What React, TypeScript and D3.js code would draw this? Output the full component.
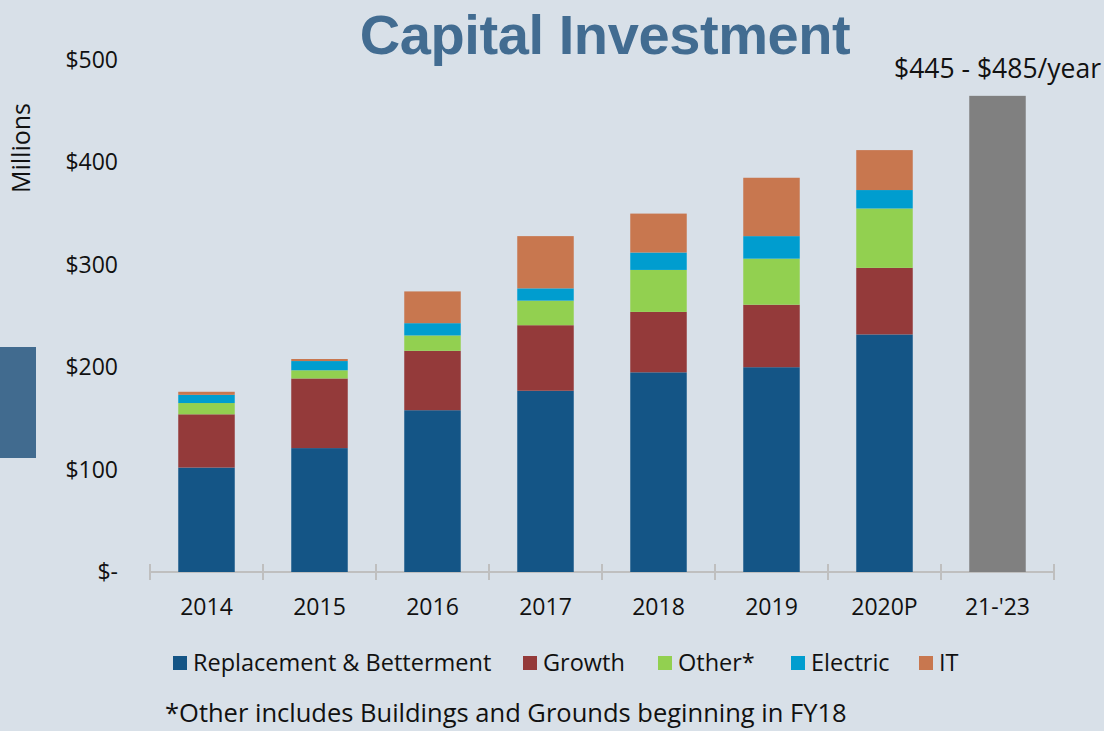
import { useMemo } from "react";
import * as d3 from "d3";

const categories = ["2014", "2015", "2016", "2017", "2018", "2019", "2020P", "21-'23"];
const stackedYears = ["2014", "2015", "2016", "2017", "2018", "2019", "2020P"];
const replacement = [102, 121, 158, 177, 195, 200, 232];
const growth = [52, 68, 58, 64, 59, 61, 65];
const other = [11, 8, 15, 24, 41, 45, 58];
const electric = [8, 9, 12, 12, 17, 22, 18];
const it = [3, 2, 31, 51, 38, 57, 39];
const forecastLabel = "21-'23";
const forecastValue = 465;
const yTicks = [0, 100, 200, 300, 400, 500];

const seriesNames = ["Replacement & Betterment", "Growth", "Other*", "Electric", "IT"];
const seriesKeys = ["replacement", "growth", "other", "electric", "it"];
const colors = ["#145586", "#943a3a", "#92d050", "#009dcf", "#c8774f"];

const W = 1104;
const H = 731;
const FONT = "'Open Sans', sans-serif";

const App = () => {
  const x = d3
    .scaleBand<string>()
    .domain(categories)
    .range([150, 1054])
    .paddingInner(0.5)
    .paddingOuter(0.25);
  const y = d3.scaleLinear().domain([0, 500]).range([572, 60]);
  const step = x.step();

  const rows = stackedYears.map((year, i) => ({
    year,
    replacement: replacement[i],
    growth: growth[i],
    other: other[i],
    electric: electric[i],
    it: it[i],
  }));

  const layers = useMemo(() => d3.stack<any>().keys(seriesKeys)(rows), []);

  // legend layout (x of each swatch)
  const legendX = [173, 523, 658, 791, 919];

  return (
    <div style={{ position: "absolute", left: 0, top: 0 }}>
      <svg width={W} height={H} style={{ display: "block", fontFamily: FONT }}>
        <rect x={0} y={0} width={W} height={H} fill="#d8e0e8" />
        <rect x={0} y={347} width={36} height={111} fill="#416b8f" />

        <text
          x={605}
          y={54}
          textAnchor="middle"
          fontFamily="'Liberation Sans', Arial, sans-serif"
          fontWeight="bold"
          fontSize={56}
          letterSpacing={-0.4}
          fill="#426c91"
        >
          Capital Investment
        </text>

        <text
          transform="translate(30,148) rotate(-90)"
          textAnchor="middle"
          fontSize={25}
          fill="#111"
        >
          Millions
        </text>

        {yTicks.map((t) => (
          <text
            key={t}
            x={118}
            y={y(t)}
            dy="0.35em"
            textAnchor="end"
            fontSize={23}
            fill="#111"
          >
            {t === 0 ? "$-" : `$${t}`}
          </text>
        ))}

        {/* x axis */}
        <line x1={150} x2={1054} y1={y(0)} y2={y(0)} stroke="#bfbfbf" strokeWidth={2} />
        {d3.range(categories.length + 1).map((i) => {
          const tx = 150 + i * step;
          return (
            <line key={i} x1={tx} x2={tx} y1={y(0) - 8} y2={y(0) + 8} stroke="#bfbfbf" strokeWidth={2} />
          );
        })}

        {layers.map((layer, li) => (
          <g key={layer.key} fill={colors[li]}>
            {layer.map((d: any) => (
              <rect
                key={d.data.year}
                x={x(d.data.year)}
                y={y(d[1])}
                width={x.bandwidth()}
                height={y(d[0]) - y(d[1])}
              />
            ))}
          </g>
        ))}

        <rect
          x={x(forecastLabel)}
          y={y(forecastValue)}
          width={x.bandwidth()}
          height={y(0) - y(forecastValue)}
          fill="#808080"
        />
        <text x={1101} y={69} dy="0.35em" textAnchor="end" fontSize={26.5} fill="#111">
          $445 - $485/year
        </text>

        {categories.map((c) => (
          <text
            key={c}
            x={(x(c) ?? 0) + x.bandwidth() / 2}
            y={607}
            dy="0.35em"
            textAnchor="middle"
            fontSize={23}
            fill="#111"
          >
            {c}
          </text>
        ))}

        {seriesNames.map((name, i) => (
          <g key={name} transform={`translate(${legendX[i]},663)`}>
            <rect x={0} y={-7} width={14} height={14} fill={colors[i]} />
            <text x={20} y={0} dy="0.35em" fontSize={23.5} fill="#111">
              {name}
            </text>
          </g>
        ))}

        <text x={165} y={713} dy="0.35em" fontSize={25.5} fill="#111">
          *Other includes Buildings and Grounds beginning in FY18
        </text>
      </svg>
    </div>
  );
};

export default App;
